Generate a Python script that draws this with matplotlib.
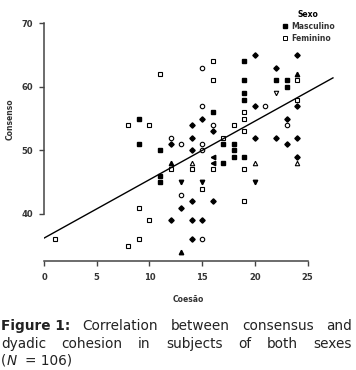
import numpy as np
import matplotlib.pyplot as plt
from matplotlib.lines import Line2D

## -------- data (Coesao, Consenso) -------- ##

# Masculino (filled squares)
masc_x = [9, 9, 11, 11, 11, 19, 19, 22, 23, 23, 19, 19, 16, 17, 18, 18, 18, 19, 17]
masc_y = [55, 51, 50, 46, 45, 64, 61, 61, 61, 60, 59, 58, 56, 51, 51, 50, 49, 49, 48]

# Feminino (open squares)
fem_x = [1, 11, 8, 10, 12, 9, 10, 9, 8, 16, 16, 24, 24, 19, 19, 18, 19, 17, 14, 16, 19, 15, 19]
fem_y = [36, 62, 54, 54, 47, 41, 39, 36, 35, 64, 61, 61, 58, 56, 55, 54, 53, 52, 47, 47, 47, 44, 42]

# overlapping points drawn with other glyphs
circ_x = [12, 15, 15, 21, 23, 16, 13, 15, 15, 13, 15]
circ_y = [52, 63, 57, 57, 54, 54, 51, 51, 50, 43, 36]

diam_x = [12, 12, 20, 24, 22, 20, 24, 15, 14, 16, 23, 14, 20, 22, 24, 23, 14, 24, 14, 16, 13, 14, 15, 14]
diam_y = [51, 39, 65, 65, 63, 57, 57, 55, 54, 53, 55, 52, 52, 52, 52, 51, 50, 49, 42, 42, 41, 39, 39, 36]

left_x = [16, 16]
left_y = [49, 48]

triup_x = [12, 24, 13]
triup_y = [48, 62, 34]

otri_x = [14, 20, 24]
otri_y = [48, 48, 48]

tridn_x = [13, 15, 20]
tridn_y = [45, 45, 45]

otridn_x = [22]
otridn_y = [59]

# regression line
intercept = 36.2
slope = 0.92
line_x = [0, 27.4]

xticks = [0, 5, 10, 15, 20, 25]
yticks = [40, 50, 60, 70]

caption1 = ["Correlation", "between", "consensus", "and"]
caption2 = ["dyadic", "cohesion", "in", "subjects", "of", "both", "sexes"]

## -------- plotting -------- ##

W, H = 356, 370
fig = plt.figure(figsize=(W / 100, H / 100), dpi=100)
ax = fig.add_axes([44 / W, (H - 261) / H, 290 / W, 246 / H])

ms = 3.2
ax.plot(masc_x, masc_y, ls="none", marker="s", ms=ms, color="black")
ax.plot(fem_x, fem_y, ls="none", marker="s", ms=ms, mfc="white", mec="black", mew=0.8)
ax.plot(circ_x, circ_y, ls="none", marker="o", ms=ms, mfc="white", mec="black", mew=0.8)
ax.plot(diam_x, diam_y, ls="none", marker="D", ms=2.7, color="black")
ax.plot(left_x, left_y, ls="none", marker="<", ms=ms, color="black")
ax.plot(triup_x, triup_y, ls="none", marker="^", ms=ms, color="black")
ax.plot(otri_x, otri_y, ls="none", marker="^", ms=ms, mfc="white", mec="black", mew=0.8)
ax.plot(tridn_x, tridn_y, ls="none", marker="v", ms=ms, color="black")
ax.plot(otridn_x, otridn_y, ls="none", marker="v", ms=ms, mfc="white", mec="black", mew=0.8)

line_y = [intercept + slope * v for v in line_x]
ax.plot(line_x, line_y, color="black", lw=1.0)

ax.set_xlim(0, 27.5)
ax.set_ylim(32.6, 71.3)
ax.set_xticks(xticks)
ax.set_yticks(yticks)

for s in ["top", "right"]:
    ax.spines[s].set_visible(False)
ax.spines["left"].set_bounds(40, 70)
ax.spines["bottom"].set_bounds(0, 25)
for s in ["left", "bottom"]:
    ax.spines[s].set_color("#444444")
    ax.spines[s].set_linewidth(1.1)
ax.tick_params(length=3.6, width=1.0, color="#444444", labelsize=6, labelcolor="#333333")
ax.tick_params(axis="y", pad=4)
ax.tick_params(axis="x", pad=5)
for lab in ax.get_xticklabels() + ax.get_yticklabels():
    lab.set_fontweight("bold")

fig.text(10 / W, 1 - 119 / H, "Consenso", rotation=90, ha="center", va="center",
         fontsize=5.5, fontweight="bold", color="#333333")
fig.text(188 / W, 1 - 299 / H, "Coesão", ha="center", va="center",
         fontsize=5.5, fontweight="bold", color="#333333")

## legend
handles = [Line2D([], [], ls="none", marker="s", ms=2.8, color="black"),
           Line2D([], [], ls="none", marker="s", ms=2.8, mfc="white", mec="black", mew=0.7)]
leg = fig.legend(handles, ["Masculino", "Feminino"], title="Sexo", frameon=False,
                 loc="upper left", bbox_to_anchor=(277 / W, 1 - 5 / H),
                 prop={"size": 5.5, "weight": "bold"}, handlelength=0.6, handletextpad=0.5,
                 labelspacing=0.35, borderpad=0.2)
leg.get_title().set_fontsize(5.5)
leg.get_title().set_fontweight("bold")
for t in leg.get_texts():
    t.set_color("#333333")

## -------- caption (justified) -------- ##
renderer = fig.canvas.get_renderer()
cap_color = "#222222"
fs = 9.8


def justify(words, y_px, x0, x1, first=None):
    objs = []
    if first is not None:
        objs.append(fig.text(0, 0, first, fontsize=fs, fontweight="bold", color=cap_color, va="center"))
    for w in words:
        objs.append(fig.text(0, 0, w, fontsize=fs, color=cap_color, va="center"))
    widths = [o.get_window_extent(renderer).width for o in objs]
    gap = (x1 - x0 - sum(widths)) / (len(objs) - 1)
    x = x0
    for o, w in zip(objs, widths):
        o.set_position((x / W, 1 - y_px / H))
        x += w + gap


justify(caption1, 326, 1, 352, first="Figure 1:")
justify(caption2, 344, 1, 352)
fig.text(1 / W, 1 - 361 / H, "(", fontsize=fs, color=cap_color, va="center")
fig.text(7 / W, 1 - 361 / H, "N", fontsize=fs, color=cap_color, va="center", style="italic")
fig.text(25 / W, 1 - 361 / H, "= 106)", fontsize=fs, color=cap_color, va="center")

fig.savefig("out.png", dpi=100)
